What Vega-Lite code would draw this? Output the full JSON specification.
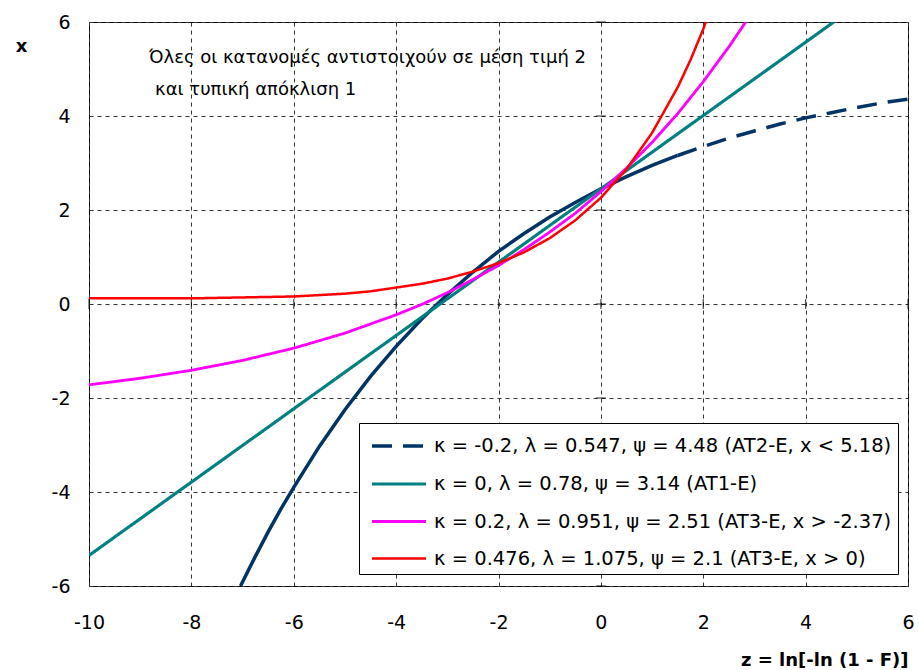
{
  "$schema": "https://vega.github.io/schema/vega-lite/v6.json",
  "width": 819,
  "height": 564,
  "autosize": {"type": "none"},
  "padding": {"left": 89, "top": 22, "right": 11, "bottom": 84},
  "background": "#ffffff",
  "config": {
    "font": "DejaVu Sans",
    "view": {"stroke": "#000000", "strokeWidth": 1}
  },
  "datasets": {
    "curves": [
      {"s": "a", "part": "solid", "z": -7.04, "x": -6.0},
      {"s": "a", "part": "solid", "z": -6.75, "x": -5.37},
      {"s": "a", "part": "solid", "z": -6.5, "x": -4.85},
      {"s": "a", "part": "solid", "z": -6.25, "x": -4.36},
      {"s": "a", "part": "solid", "z": -6.0, "x": -3.9},
      {"s": "a", "part": "solid", "z": -5.5, "x": -3.03},
      {"s": "a", "part": "solid", "z": -5.0, "x": -2.25},
      {"s": "a", "part": "solid", "z": -4.5, "x": -1.54},
      {"s": "a", "part": "solid", "z": -4.0, "x": -0.9},
      {"s": "a", "part": "solid", "z": -3.5, "x": -0.32},
      {"s": "a", "part": "solid", "z": -3.0, "x": 0.2},
      {"s": "a", "part": "solid", "z": -2.5, "x": 0.68},
      {"s": "a", "part": "solid", "z": -2.0, "x": 1.12},
      {"s": "a", "part": "solid", "z": -1.5, "x": 1.5},
      {"s": "a", "part": "solid", "z": -1.0, "x": 1.85},
      {"s": "a", "part": "solid", "z": -0.5, "x": 2.16},
      {"s": "a", "part": "solid", "z": 0.0, "x": 2.45},
      {"s": "a", "part": "solid", "z": 0.5, "x": 2.71},
      {"s": "a", "part": "solid", "z": 1.0, "x": 2.95},
      {"s": "a", "part": "solid", "z": 1.5, "x": 3.16},
      {"s": "a", "part": "main", "z": 1.5, "x": 3.16},
      {"s": "a", "part": "main", "z": 2.0, "x": 3.35},
      {"s": "a", "part": "main", "z": 2.5, "x": 3.53},
      {"s": "a", "part": "main", "z": 3.0, "x": 3.68},
      {"s": "a", "part": "main", "z": 3.5, "x": 3.83},
      {"s": "a", "part": "main", "z": 4.0, "x": 3.96},
      {"s": "a", "part": "main", "z": 4.5, "x": 4.07},
      {"s": "a", "part": "main", "z": 5.0, "x": 4.18},
      {"s": "a", "part": "main", "z": 5.5, "x": 4.28},
      {"s": "a", "part": "main", "z": 6.0, "x": 4.36},
      {"s": "b", "part": "main", "z": -10, "x": -5.35},
      {"s": "b", "part": "main", "z": -9, "x": -4.57},
      {"s": "b", "part": "main", "z": -8, "x": -3.79},
      {"s": "b", "part": "main", "z": -7, "x": -3.01},
      {"s": "b", "part": "main", "z": -6, "x": -2.23},
      {"s": "b", "part": "main", "z": -5, "x": -1.45},
      {"s": "b", "part": "main", "z": -4, "x": -0.67},
      {"s": "b", "part": "main", "z": -3, "x": 0.11},
      {"s": "b", "part": "main", "z": -2, "x": 0.89},
      {"s": "b", "part": "main", "z": -1, "x": 1.67},
      {"s": "b", "part": "main", "z": 0, "x": 2.45},
      {"s": "b", "part": "main", "z": 1, "x": 3.23},
      {"s": "b", "part": "main", "z": 2, "x": 4.01},
      {"s": "b", "part": "main", "z": 3, "x": 4.79},
      {"s": "b", "part": "main", "z": 4, "x": 5.57},
      {"s": "b", "part": "main", "z": 4.55, "x": 6.0},
      {"s": "c", "part": "main", "z": -10, "x": -1.72},
      {"s": "c", "part": "main", "z": -9, "x": -1.58},
      {"s": "c", "part": "main", "z": -8, "x": -1.41},
      {"s": "c", "part": "main", "z": -7, "x": -1.2},
      {"s": "c", "part": "main", "z": -6, "x": -0.94},
      {"s": "c", "part": "main", "z": -5, "x": -0.62},
      {"s": "c", "part": "main", "z": -4, "x": -0.23},
      {"s": "c", "part": "main", "z": -3.5, "x": -0.01},
      {"s": "c", "part": "main", "z": -3, "x": 0.24},
      {"s": "c", "part": "main", "z": -2.5, "x": 0.52},
      {"s": "c", "part": "main", "z": -2, "x": 0.82},
      {"s": "c", "part": "main", "z": -1.5, "x": 1.16},
      {"s": "c", "part": "main", "z": -1, "x": 1.53},
      {"s": "c", "part": "main", "z": -0.5, "x": 1.93},
      {"s": "c", "part": "main", "z": 0, "x": 2.39},
      {"s": "c", "part": "main", "z": 0.5, "x": 2.89},
      {"s": "c", "part": "main", "z": 1, "x": 3.44},
      {"s": "c", "part": "main", "z": 1.5, "x": 4.05},
      {"s": "c", "part": "main", "z": 2, "x": 4.73},
      {"s": "c", "part": "main", "z": 2.5, "x": 5.47},
      {"s": "c", "part": "main", "z": 2.83, "x": 6.0},
      {"s": "d", "part": "main", "z": -10, "x": 0.12},
      {"s": "d", "part": "main", "z": -9, "x": 0.12},
      {"s": "d", "part": "main", "z": -8, "x": 0.12},
      {"s": "d", "part": "main", "z": -7, "x": 0.14},
      {"s": "d", "part": "main", "z": -6, "x": 0.16},
      {"s": "d", "part": "main", "z": -5, "x": 0.22},
      {"s": "d", "part": "main", "z": -4.5, "x": 0.27},
      {"s": "d", "part": "main", "z": -4, "x": 0.35},
      {"s": "d", "part": "main", "z": -3.5, "x": 0.43},
      {"s": "d", "part": "main", "z": -3, "x": 0.54},
      {"s": "d", "part": "main", "z": -2.5, "x": 0.69},
      {"s": "d", "part": "main", "z": -2, "x": 0.87},
      {"s": "d", "part": "main", "z": -1.5, "x": 1.1},
      {"s": "d", "part": "main", "z": -1, "x": 1.4},
      {"s": "d", "part": "main", "z": -0.5, "x": 1.78},
      {"s": "d", "part": "main", "z": 0, "x": 2.26},
      {"s": "d", "part": "main", "z": 0.5, "x": 2.87},
      {"s": "d", "part": "main", "z": 1, "x": 3.64},
      {"s": "d", "part": "main", "z": 1.5, "x": 4.61},
      {"s": "d", "part": "main", "z": 1.75, "x": 5.19},
      {"s": "d", "part": "main", "z": 2, "x": 5.85},
      {"s": "d", "part": "main", "z": 2.05, "x": 6.0}
    ],
    "notes": [
      {"z": -8.83, "x": 5.13, "t": "Όλες οι κατανομές αντιστοιχούν σε μέση τιμή 2"},
      {"z": -8.71, "x": 4.45, "t": "και τυπική απόκλιση 1"}
    ],
    "zticks": [
      {"v": -10}, {"v": -8}, {"v": -6}, {"v": -4}, {"v": -2}, {"v": 0}, {"v": 2}, {"v": 4}, {"v": 6}
    ],
    "xticks": [
      {"v": -6}, {"v": -4}, {"v": -2}, {"v": 0}, {"v": 2}, {"v": 4}, {"v": 6}
    ]
  },
  "layer": [
    {
      "mark": {"type": "rule", "color": "#808080", "strokeWidth": 2},
      "encoding": {"x": {"datum": 0, "type": "quantitative"}}
    },
    {
      "mark": {"type": "rule", "color": "#000000", "strokeWidth": 1.5},
      "encoding": {"y": {"datum": 0, "type": "quantitative"}}
    },
    {
      "data": {"name": "zticks"},
      "mark": {"type": "tick", "orient": "vertical", "color": "#000000", "size": 10, "thickness": 1.2},
      "encoding": {
        "x": {"field": "v", "type": "quantitative"},
        "y": {"datum": 0, "type": "quantitative"}
      }
    },
    {
      "data": {"name": "xticks"},
      "mark": {"type": "tick", "orient": "horizontal", "color": "#000000", "size": 10, "thickness": 1.2},
      "encoding": {
        "y": {"field": "v", "type": "quantitative"},
        "x": {"datum": 0, "type": "quantitative"}
      }
    },
    {
      "data": {"name": "curves"},
      "transform": [{"filter": "datum.part == 'solid'"}],
      "mark": {"type": "line", "color": "#003366", "strokeWidth": 3.5, "clip": true},
      "encoding": {
        "x": {"field": "z", "type": "quantitative"},
        "y": {"field": "x", "type": "quantitative"},
        "order": {"field": "z"}
      }
    },
    {
      "data": {"name": "curves"},
      "transform": [{"filter": "datum.part == 'main'"}],
      "mark": {"type": "line", "clip": true},
      "encoding": {
        "x": {
          "field": "z",
          "type": "quantitative",
          "scale": {"domain": [-10, 6], "nice": false, "zero": false},
          "axis": {
            "values": [-10, -8, -6, -4, -2, 0, 2, 4, 6],
            "labelExpr": "toString(datum.value)",
            "title": "z = ln[-ln (1 - F)]",
            "titleFont": "DejaVu Sans",
            "titleFontWeight": "bold",
            "titleFontSize": 18,
            "titleColor": "#000000",
            "titleAnchor": "end",
            "titleAlign": "right",
            "titleBaseline": "alphabetic",
            "titleX": 819,
            "titleY": 79,
            "labelFont": "DejaVu Sans",
            "labelFontSize": 19,
            "labelColor": "#000000",
            "labelPadding": 27,
            "labelFlush": false,
            "labelOverlap": false,
            "labelBound": false,
            "ticks": false,
            "domain": false,
            "grid": true,
            "gridColor": "#333333",
            "gridDash": [4, 4],
            "gridWidth": 1
          }
        },
        "y": {
          "field": "x",
          "type": "quantitative",
          "scale": {"domain": [-6, 6], "nice": false, "zero": false},
          "axis": {
            "values": [-6, -4, -2, 0, 2, 4, 6],
            "labelExpr": "toString(datum.value)",
            "title": "x",
            "titleFont": "DejaVu Sans",
            "titleFontWeight": "bold",
            "titleFontSize": 18,
            "titleColor": "#000000",
            "titleAngle": 0,
            "titleAlign": "center",
            "titleBaseline": "middle",
            "titleX": -68,
            "titleY": 24,
            "labelFont": "DejaVu Sans",
            "labelFontSize": 19,
            "labelColor": "#000000",
            "labelPadding": 19,
            "labelFlush": false,
            "labelOverlap": false,
            "labelBound": false,
            "ticks": false,
            "domain": false,
            "grid": true,
            "gridColor": "#333333",
            "gridDash": [4, 4],
            "gridWidth": 1
          }
        },
        "color": {
          "field": "s",
          "type": "nominal",
          "scale": {"domain": ["a", "b", "c", "d"], "range": ["#003366", "#008080", "#ff00ff", "#ff0000"]},
          "legend": {
            "orient": "none",
            "legendX": 270,
            "legendY": 401,
            "title": null,
            "direction": "vertical",
            "strokeColor": "#000000",
            "fillColor": "#ffffff",
            "padding": 6,
            "rowPadding": 11,
            "symbolType": "M-1.8,0H1.8",
            "symbolSize": 900,
            "symbolOffset": 17,
            "symbolStrokeWidth": 3.5,
            "labelFont": "DejaVu Sans",
            "labelFontSize": 19.5,
            "labelColor": "#000000",
            "labelLimit": 0,
            "labelOffset": 18,
            "labelExpr": "datum.value == 'a' ? 'κ = -0.2, λ = 0.547, ψ = 4.48 (AT2-E, x < 5.18)' : datum.value == 'b' ? 'κ = 0, λ = 0.78, ψ = 3.14 (AT1-E)' : datum.value == 'c' ? 'κ = 0.2, λ = 0.951, ψ = 2.51 (AT3-E, x > -2.37)' : 'κ = 0.476, λ = 1.075, ψ = 2.1 (AT3-E, x > 0)'"
          }
        },
        "strokeDash": {
          "field": "s",
          "type": "nominal",
          "scale": {"domain": ["a", "b", "c", "d"], "range": [[20, 11], [1, 0], [1, 0], [1, 0]]},
          "legend": null
        },
        "strokeWidth": {
          "field": "s",
          "type": "nominal",
          "scale": {"domain": ["a", "b", "c", "d"], "range": [3.5, 2.5, 2.5, 2.5]},
          "legend": null
        },
        "order": {"field": "z"}
      }
    },
    {
      "data": {"name": "notes"},
      "mark": {"type": "text", "align": "left", "baseline": "alphabetic", "font": "DejaVu Sans", "fontSize": 18, "color": "#000000"},
      "encoding": {
        "x": {"field": "z", "type": "quantitative"},
        "y": {"field": "x", "type": "quantitative"},
        "text": {"field": "t"}
      }
    }
  ]
}
